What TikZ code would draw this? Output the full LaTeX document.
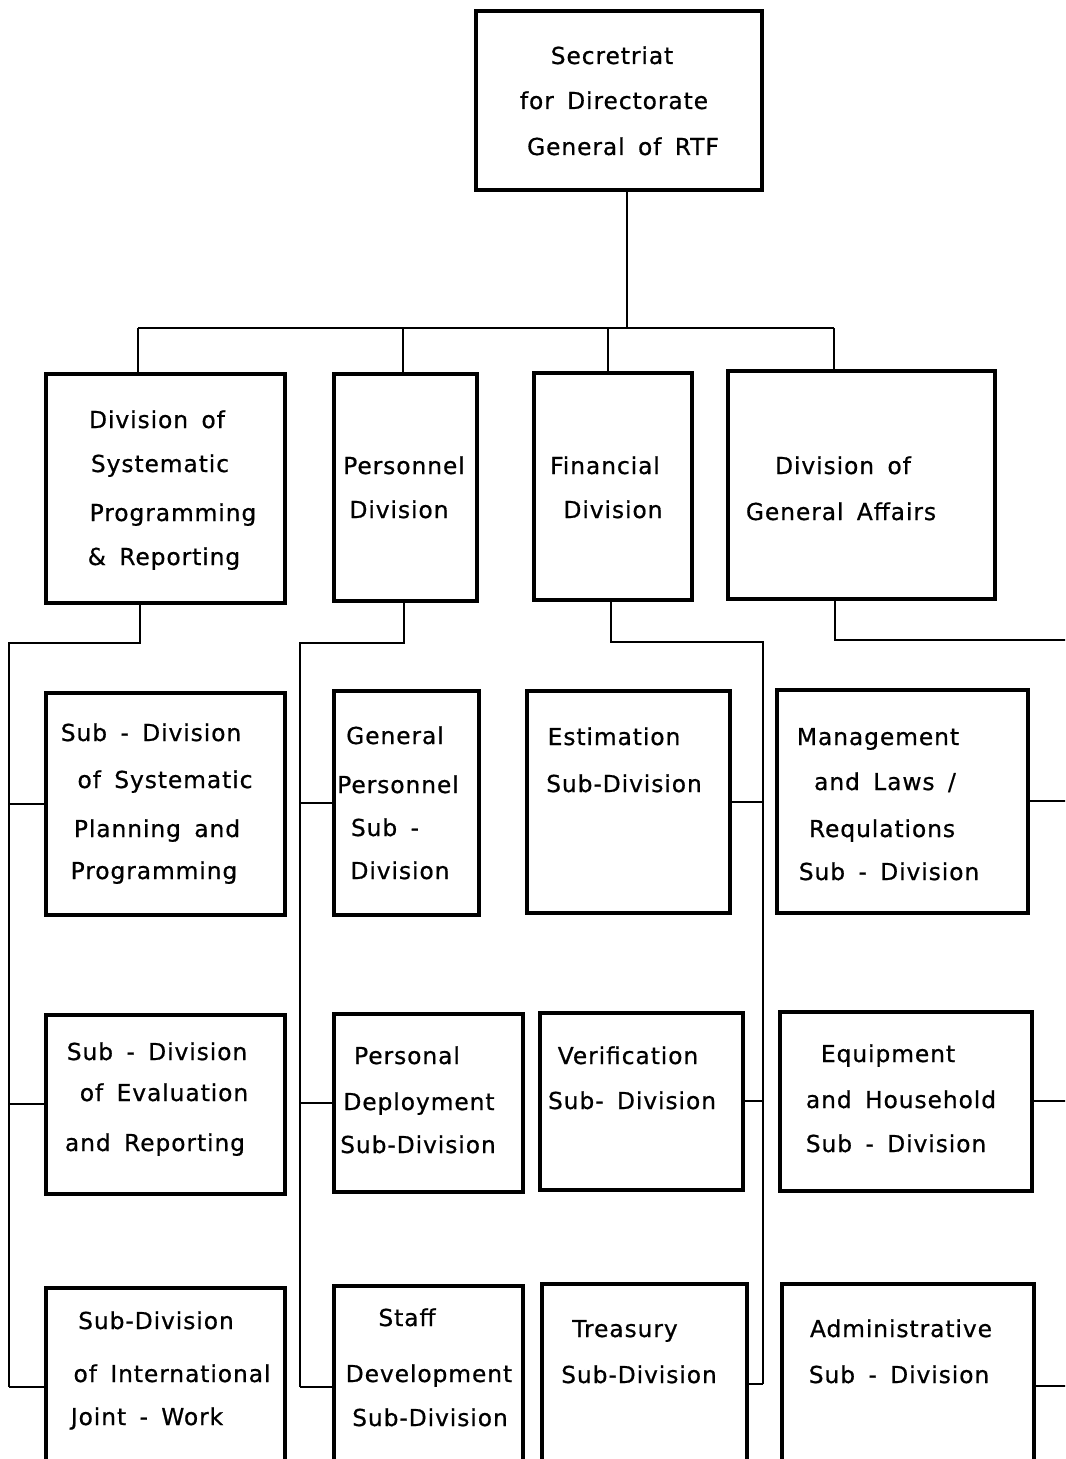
\documentclass[tikz,border=0pt]{standalone}
\usepackage{fontspec}
\newfontfamily\lett[LetterSpace=4,WordSpace=1.6,FakeBold=0.7]{DejaVu Sans}
\tikzset{
 box/.style={draw, line width=2.7pt, line join=miter, anchor=north west, inner sep=0pt},
 conn/.style={line width=1.5pt},
 txt/.style={font=\lett\fontsize{17.5}{20}\selectfont, inner sep=0pt, anchor=base},
}
\newcommand\bx[5]{\node[box, minimum width={(#4-#2)*0.75pt}, minimum height={(#5-#3)*0.75pt}] (#1) at (#2,#3) {};}
\newcommand\tlines[2]{\foreach \xx/\yy/\ltext [count=\ii] in {#2} {\node[txt] (#1-\ii) at ({\xx},{\yy+8}) {\ltext};}}
\begin{document}
\begin{tikzpicture}[x=0.75pt,y=-0.75pt]
\useasboundingbox (0,0) rectangle (1065,1459);
\clip (0,0) rectangle (1065,1459);
% boxes
\bx{top}{474}{9}{760}{188}
\bx{b1}{44}{372}{283}{601}
\bx{b2}{332}{372}{475}{599}
\bx{b3}{532}{371}{690}{598}
\bx{b4}{726}{369}{993}{597}
\bx{l1}{44}{691}{283}{913}
\bx{l2}{332}{689}{477}{913}
\bx{l3}{525}{689}{728}{911}
\bx{l4}{775}{688}{1026}{911}
\bx{m1}{44}{1013}{283}{1192}
\bx{m2}{332}{1012}{521}{1190}
\bx{m3}{538}{1011}{741}{1188}
\bx{m4}{778}{1010}{1030}{1189}
\bx{n1}{44}{1286}{283}{1484}
\bx{n2}{332}{1284}{521}{1486}
\bx{n3}{540}{1282}{745}{1482}
\bx{n4}{780}{1282}{1032}{1486}
% texts
\tlines{topt}{612/56/Secretriat, 614/101/for Directorate, 623/147/General of RTF}
\tlines{b1t}{157/420/Division  of, 160/464/Systematic, 173/513/Programming, 164/557/\& Reporting}
\tlines{b2t}{404/466/Personnel, 399/510/Division}
\tlines{b3t}{605/466/Financial, 613/510/Division}
\tlines{b4t}{843/466/Division  of, 841/512/General  Affairs}
\tlines{l1t}{151/733/Sub - Division, 165/780/of Systematic, 157/829/Planning  and, 154/871/Programming}
\tlines{l2t}{395/736/General, 398/785/Personnel, 385/828/Sub -, 400/871/Division}
\tlines{l3t}{614/737/Estimation, 624/784/Sub-Division}
\tlines{l4t}{878/737/Management, 885/782/{and  Laws /}, 882/829/Requlations, 889/872/Sub - Division}
\tlines{m1t}{157/1052/Sub - Division, 164/1093/of  Evaluation, 155/1143/and  Reporting}
\tlines{m2t}{407/1056/Personal, 419/1102/Deployment, 418/1145/Sub-Division}
\tlines{m3t}{628/1056/Verification, 632/1101/Sub- Division}
\tlines{m4t}{888/1054/Equipment, 901/1100/and  Household, 896/1144/Sub - Division}
\tlines{n1t}{156/1321/Sub-Division, 172/1374/of International, 147/1417/Joint - Work}
\tlines{n2t}{407/1318/Staff, 429/1374/Development, 430/1418/Sub-Division}
\tlines{n3t}{625/1329/Treasury, 639/1375/Sub-Division}
\tlines{n4t}{901/1329/Administrative, 899/1375/Sub - Division}
% top bus
\coordinate (j0) at (627,328);
\coordinate (d1) at (138,328);
\coordinate (d2) at (403,328);
\coordinate (d3) at (608,328);
\coordinate (d4) at (834,328);
\draw[conn] (top.south -| j0) -- (j0);
\draw[conn] (d1) -- (d4);
\foreach \d/\b in {d1/b1,d2/b2,d3/b3,d4/b4} {\draw[conn] (\d) -- (\d |- \b.north);}
% spines
\coordinate (k1) at (140,643); \coordinate (s1) at (9,643);
\coordinate (k2) at (404,643); \coordinate (s2) at (300,643);
\coordinate (k3) at (611,642); \coordinate (s3) at (763,642);
\coordinate (k4) at (835,640); \coordinate (s4) at (1078,640);
\draw[conn] (k1 |- b1.south) -- (k1) -- (s1) -- (s1 |- n1.west);
\foreach \b in {l1,m1,n1} {\draw[conn] (s1 |- \b.west) -- (\b.west);}
\draw[conn] (k2 |- b2.south) -- (k2) -- (s2) -- (s2 |- n2.west);
\foreach \b in {l2,m2,n2} {\draw[conn] (s2 |- \b.west) -- (\b.west);}
\draw[conn] (k3 |- b3.south) -- (k3) -- (s3) -- (s3 |- n3.east);
\foreach \b in {l3,m3,n3} {\draw[conn] (s3 |- \b.east) -- (\b.east);}
\draw[conn] (k4 |- b4.south) -- (k4) -- (s4) -- (s4 |- n4.east);
\foreach \b in {l4,m4,n4} {\draw[conn] (s4 |- \b.east) -- (\b.east);}
\end{tikzpicture}
\end{document}
